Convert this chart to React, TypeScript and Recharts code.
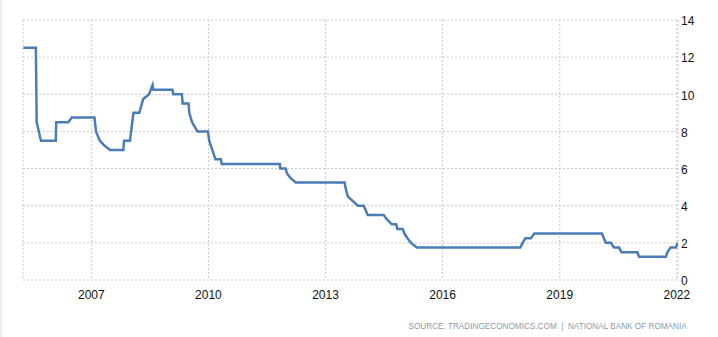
import React from 'react';
import { LineChart, Line, XAxis, YAxis, CartesianGrid } from 'recharts';

// decimal years
const dates = [
    2005.26, 2005.58, 2005.6, 2005.71, 2006.09, 2006.1, 2006.41, 2006.5,
    2007.08, 2007.12, 2007.22, 2007.33, 2007.48, 2007.82, 2007.84, 2007.99,
    2008.08, 2008.23, 2008.33, 2008.48, 2008.57, 2008.59, 2009.08, 2009.1,
    2009.32, 2009.34, 2009.49, 2009.51, 2009.58, 2009.72, 2009.99, 2010.02,
    2010.18, 2010.32, 2010.34, 2011.83, 2011.84, 2011.98, 2012.01, 2012.1,
    2012.24, 2013.49, 2013.51, 2013.57, 2013.7, 2013.83, 2013.98, 2014.03,
    2014.08, 2014.49, 2014.58, 2014.7, 2014.81, 2014.84, 2014.98, 2015.02,
    2015.1, 2015.19, 2015.34, 2017.99, 2018.05, 2018.12, 2018.26, 2018.35,
    2020.08, 2020.18, 2020.31, 2020.39, 2020.52, 2020.58, 2020.99, 2021.03,
    2021.72, 2021.76, 2021.84, 2021.97, 2022.03,
];

const rates = [
    12.5, 12.5, 8.5, 7.5, 7.5, 8.5, 8.5, 8.75,
    8.75, 8.0, 7.5, 7.25, 7.0, 7.0, 7.5, 7.5,
    9.0, 9.0, 9.75, 10.0, 10.5, 10.25, 10.25, 10.0,
    10.0, 9.5, 9.5, 9.0, 8.5, 8.0, 8.0, 7.5,
    6.5, 6.5, 6.25, 6.25, 6.0, 6.0, 5.75, 5.5,
    5.25, 5.25, 5.0, 4.5, 4.25, 4.0, 4.0, 3.75,
    3.5, 3.5, 3.25, 3.0, 3.0, 2.75, 2.75, 2.5,
    2.25, 2.0, 1.75, 1.75, 2.0, 2.25, 2.25, 2.5,
    2.5, 2.0, 2.0, 1.75, 1.75, 1.5, 1.5, 1.25,
    1.25, 1.5, 1.75, 1.75, 2.0,
];

const yearTicks = [2007, 2010, 2013, 2016, 2019, 2022];
const rateTicks = [0, 2, 4, 6, 8, 10, 12, 14];

const data = dates.map((t, i) => ({ t, rate: rates[i] }));

const tickStyle = { fontSize: 12, fill: '#111', fontFamily: '"Liberation Sans", Arial, sans-serif' };

const App = () => {
    return (
        <div style={{ position: 'absolute', left: 0, top: 0, width: 718, height: 337, background: '#fff' }}>
            <div style={{ position: 'absolute', left: 0, top: 0, width: 2, height: 337, background: '#eeeeee' }} />
            <LineChart width={718} height={337} data={data} margin={{ top: 20, right: 0, left: 23, bottom: 0 }}>
                <CartesianGrid stroke="#c8c8c8" strokeDasharray="2 2" />
                <XAxis
                    dataKey="t"
                    type="number"
                    domain={[2005.25, 2022.03]}
                    ticks={yearTicks}
                    allowDataOverflow
                    axisLine={false}
                    tickLine={false}
                    tickSize={0}
                    tickMargin={10}
                    height={57}
                    tick={tickStyle}
                />
                <YAxis
                    orientation="right"
                    domain={[0, 14]}
                    ticks={rateTicks}
                    axisLine={false}
                    tickLine={false}
                    tickSize={0}
                    tickMargin={3}
                    width={40}
                    tick={{ ...tickStyle, textAnchor: 'start', dy: 1 }}
                />
                <Line
                    type="linear"
                    dataKey="rate"
                    stroke="#4a7db8"
                    strokeWidth={2.5}
                    dot={false}
                    isAnimationActive={false}
                />
            </LineChart>
            <div
                style={{
                    position: 'absolute',
                    right: 31,
                    top: 321,
                    fontSize: 9,
                    letterSpacing: 0,
                    color: '#8b9aab',
                    fontFamily: '"Liberation Sans", Arial, sans-serif',
                    whiteSpace: 'nowrap',
                    transform: 'scaleX(0.91)',
                    transformOrigin: 'right center',
                }}
            >
                SOURCE: TRADINGECONOMICS.COM&nbsp;&nbsp;|&nbsp;&nbsp;NATIONAL BANK OF ROMANIA
            </div>
        </div>
    );
};

export default App;
